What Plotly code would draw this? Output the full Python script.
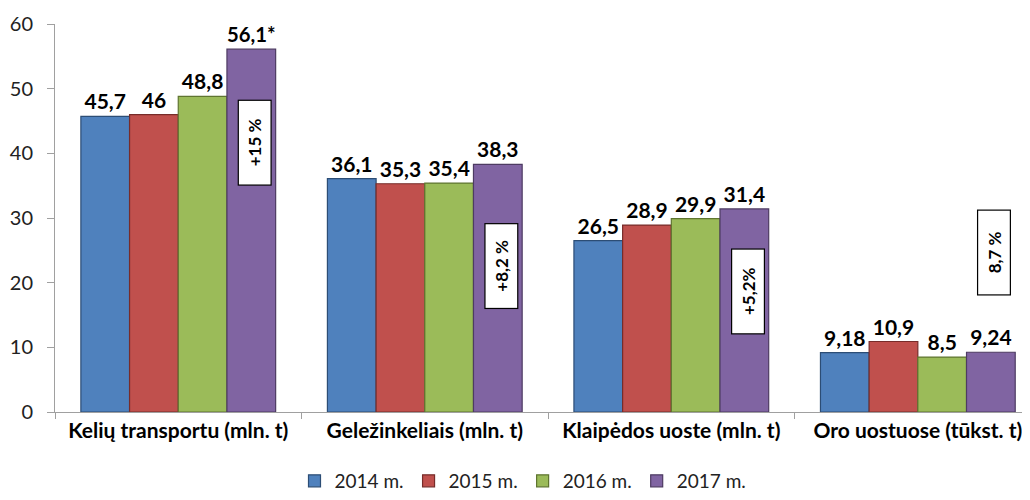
import plotly.graph_objects as go

categories = ["Kelių transportu (mln. t)", "Geležinkeliais (mln. t)",
              "Klaipėdos uoste (mln. t)", "Oro uostuose (tūkst. t)"]
series_names = ["2014 m.", "2015 m.", "2016 m.", "2017 m."]
v2014 = [45.7, 36.1, 26.5, 9.18]
v2015 = [46, 35.3, 28.9, 10.9]
v2016 = [48.8, 35.4, 29.9, 8.5]
v2017 = [56.1, 38.3, 31.4, 9.24]
l2014 = ["45,7", "36,1", "26,5", "9,18"]
l2015 = ["46", "35,3", "28,9", "10,9"]
l2016 = ["48,8", "35,4", "29,9", "8,5"]
l2017 = ["56,1*", "38,3", "31,4", "9,24"]
growth_labels = ["+15 %", "+8,2 %", "+5,2%", "8,7 %"]
growth_y = [41.6, 22.6, 18.6, 24.7]

values = [v2014, v2015, v2016, v2017]
labels = [l2014, l2015, l2016, l2017]
colors = ["#4F81BD", "#C0504D", "#9BBB59", "#8064A2"]
edges = ["#2C4D75", "#772C2A", "#5F7530", "#4D3B62"]

FONT = "Lato, Open Sans, sans-serif"

fig = go.Figure()
for name, vals, labs, c, e in zip(series_names, values, labels, colors, edges):
    fig.add_trace(go.Bar(
        x=categories, y=vals, name=name, text=labs,
        textposition="outside", cliponaxis=False,
        textfont=dict(family=FONT, size=21, color="black", weight="bold"),
        marker=dict(color=c, line=dict(color=e, width=1.2)),
    ))

for i, (g, gy) in enumerate(zip(growth_labels, growth_y)):
    fig.add_annotation(
        x=i + 0.31, y=gy, xref="x", yref="y", text=g, showarrow=False,
        textangle=-90, width=82, height=30, bgcolor="white",
        bordercolor="black", borderwidth=1.2, borderpad=1,
        font=dict(family=FONT, size=17, color="black", weight="bold"),
    )

fig.update_layout(
    width=1022, height=492, barmode="group", bargap=0.21, bargroupgap=0,
    plot_bgcolor="white", paper_bgcolor="white",
    margin=dict(l=47, r=0, t=16, b=88, autoexpand=False),
    font=dict(family=FONT, size=17, color="black"),
    legend=dict(orientation="h", x=0.48, xanchor="center",
                y=0.0, yanchor="bottom", yref="container",
                font=dict(family=FONT, size=19, color="#222"), itemwidth=30,
                traceorder="normal"),
    xaxis=dict(range=[-0.5, 3.455], showline=True, linecolor="#A0A0A0",
               automargin=False,
               ticks="outside", tickson="boundaries", ticklen=6, tickcolor="#A0A0A0",
               tickfont=dict(family=FONT, size=21, color="black", weight="bold")),
    yaxis=dict(range=[0, 60], dtick=10, showline=True, linecolor="#A0A0A0",
               automargin=False, ticklabelstandoff=10,
               ticks="outside", ticklen=7, tickcolor="#A0A0A0", showgrid=False,
               zeroline=False, tickfont=dict(family=FONT, size=20, color="#222")),
)

fig.write_html("out.html")
